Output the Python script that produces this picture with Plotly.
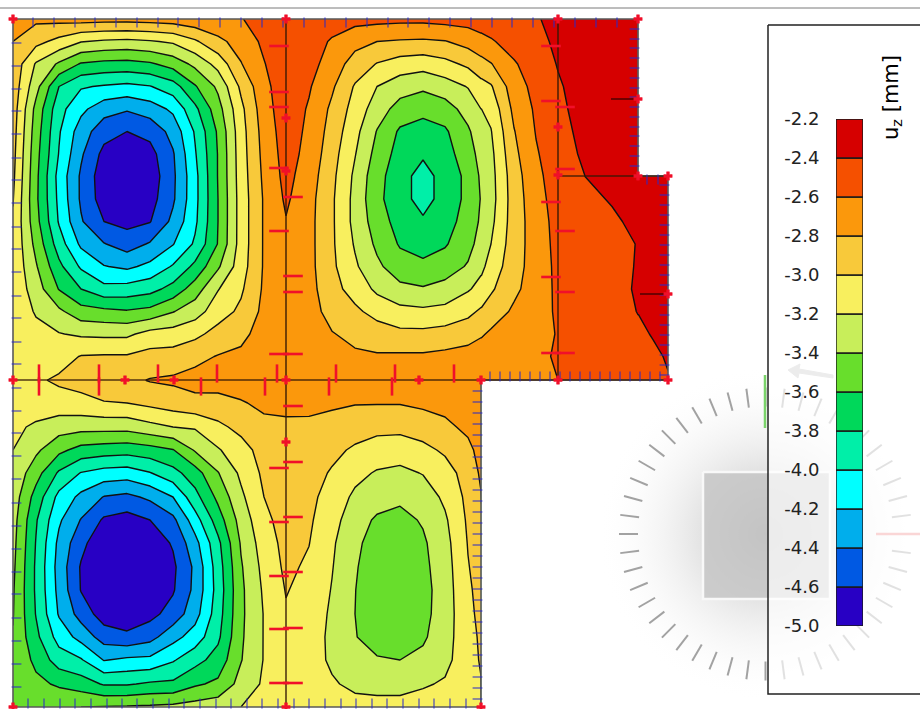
import math
import numpy as np
import plotly.graph_objects as go

# Model grid (one unit = one screen pixel of the drawing area)
x_nodes = [13, 36, 59, 81, 104, 127, 150, 173, 195, 218, 241, 264, 286, 309, 332, 355, 377, 400, 423, 445, 468, 481,
           491, 514, 536, 558, 585, 612, 638, 653, 668]
y_nodes = [19, 41.5, 64, 86.5, 109, 131.5, 154, 176.5, 199, 221.5, 244, 266.5, 289, 311.5, 334, 356.5, 380,
           403, 427, 450, 473, 497, 520, 543, 567, 590, 614, 637, 660, 684, 707]
H = None

# Deformation uz [mm], one list per x node, top to bottom
uz_columns = [
 [-2.62,-2.80,-2.86,-2.88,-2.90,-2.92,-2.94,-2.96,-2.99,-3.02,-3.03,-3.04,-3.05,-3.06,-3.07,-3.08,-3.09,-3.12,-3.16,-3.20,-3.25,-3.29,-3.32,-3.34,-3.36,-3.38,-3.39,-3.41,-3.43,-3.45,-3.47],
 [-2.76,-2.94,-3.22,-3.33,-3.46,-3.50,-3.53,-3.55,-3.56,-3.53,-3.46,-3.38,-3.30,-3.22,-3.14,-3.08,-3.03,-3.10,-3.23,-3.36,-3.52,-3.68,-3.78,-3.81,-3.83,-3.83,-3.81,-3.75,-3.65,-3.55,-3.45],
 [-2.74,-3.06,-3.43,-3.80,-3.93,-3.98,-4.01,-4.07,-4.05,-4.02,-3.90,-3.75,-3.61,-3.36,-3.19,-3.08,-2.97,-3.08,-3.31,-3.55,-3.83,-4.06,-4.17,-4.25,-4.28,-4.26,-4.22,-4.08,-3.90,-3.63,-3.43],
 [-2.72,-3.19,-3.62,-3.98,-4.15,-4.30,-4.37,-4.43,-4.43,-4.38,-4.24,-4.03,-3.80,-3.52,-3.23,-2.99,-2.93,-3.06,-3.33,-3.67,-4.01,-4.25,-4.41,-4.54,-4.62,-4.61,-4.48,-4.27,-3.98,-3.70,-3.40],
 [-2.73,-3.23,-3.66,-4.02,-4.32,-4.52,-4.66,-4.72,-4.70,-4.60,-4.39,-4.19,-3.94,-3.55,-3.24,-2.98,-2.89,-3.01,-3.33,-3.70,-4.08,-4.41,-4.63,-4.76,-4.83,-4.80,-4.70,-4.49,-4.21,-3.82,-3.39],
 [-2.73,-3.25,-3.67,-4.05,-4.38,-4.60,-4.75,-4.85,-4.78,-4.66,-4.49,-4.24,-3.92,-3.58,-3.24,-2.98,-2.85,-3.00,-3.33,-3.72,-4.10,-4.45,-4.68,-4.80,-4.90,-4.86,-4.74,-4.55,-4.16,-3.82,-3.38],
 [-2.72,-3.22,-3.63,-4.01,-4.30,-4.54,-4.67,-4.72,-4.68,-4.61,-4.38,-4.15,-3.87,-3.54,-3.13,-2.93,-2.79,-2.95,-3.26,-3.68,-4.01,-4.36,-4.60,-4.72,-4.78,-4.74,-4.66,-4.47,-4.15,-3.77,-3.37],
 [-2.70,-3.17,-3.52,-3.89,-4.16,-4.33,-4.42,-4.44,-4.43,-4.35,-4.21,-3.98,-3.73,-3.41,-3.11,-2.92,-2.77,-2.90,-3.20,-3.61,-3.87,-4.20,-4.45,-4.58,-4.64,-4.62,-4.52,-4.27,-4.02,-3.76,-3.35],
 [-2.66,-3.03,-3.35,-3.62,-3.85,-3.98,-4.02,-4.06,-4.06,-4.04,-3.97,-3.75,-3.50,-3.29,-3.05,-2.85,-2.74,-2.85,-3.18,-3.38,-3.69,-3.87,-4.09,-4.27,-4.36,-4.35,-4.28,-4.11,-3.87,-3.63,-3.32],
 [-2.64,-2.85,-3.13,-3.36,-3.48,-3.57,-3.59,-3.59,-3.60,-3.60,-3.59,-3.43,-3.21,-3.09,-2.93,-2.79,-2.70,-2.88,-3.04,-3.22,-3.41,-3.55,-3.70,-3.85,-3.90,-3.92,-3.89,-3.84,-3.72,-3.56,-3.28],
 [-2.61,-2.72,-2.81,-2.96,-3.05,-3.08,-3.09,-3.10,-3.11,-3.11,-3.11,-3.09,-3.03,-2.96,-2.85,-2.76,-2.68,-2.82,-2.95,-3.07,-3.16,-3.24,-3.32,-3.38,-3.42,-3.44,-3.44,-3.43,-3.41,-3.33,-3.20],
 [-2.52,-2.56,-2.61,-2.66,-2.69,-2.72,-2.74,-2.76,-2.78,-2.78,-2.78,-2.78,-2.77,-2.75,-2.72,-2.69,-2.66,-2.75,-2.86,-2.93,-2.96,-3.00,-3.05,-3.10,-3.14,-3.17,-3.19,-3.19,-3.19,-3.17,-3.12],
 [-2.46,-2.45,-2.46,-2.47,-2.48,-2.50,-2.52,-2.54,-2.57,-2.61,-2.62,-2.63,-2.63,-2.64,-2.64,-2.65,-2.66,-2.76,-2.83,-2.86,-2.88,-2.90,-2.92,-2.94,-2.96,-2.99,-3.02,-3.04,-3.06,-3.08,-3.08],
 [-2.45,-2.47,-2.52,-2.58,-2.62,-2.64,-2.66,-2.70,-2.73,-2.74,-2.74,-2.74,-2.73,-2.72,-2.70,-2.68,-2.66,-2.75,-2.84,-2.88,-2.92,-2.95,-2.97,-2.995,-3.03,-3.06,-3.09,-3.11,-3.12,-3.12,-3.09],
 [-2.47,-2.63,-2.70,-2.77,-2.84,-2.88,-2.92,-2.95,-2.97,-2.97,-2.97,-2.96,-2.93,-2.87,-2.79,-2.72,-2.68,-2.77,-2.87,-2.95,-3.02,-3.08,-3.13,-3.17,-3.19,-3.21,-3.23,-3.24,-3.23,-3.18,-3.11],
 [-2.53,-2.74,-2.88,-3.02,-3.08,-3.14,-3.19,-3.24,-3.26,-3.26,-3.22,-3.17,-3.08,-2.96,-2.85,-2.77,-2.70,-2.79,-2.91,-3.03,-3.14,-3.24,-3.31,-3.36,-3.38,-3.395,-3.40,-3.39,-3.33,-3.24,-3.14],
 [-2.54,-2.80,-3.01,-3.20,-3.30,-3.41,-3.47,-3.53,-3.55,-3.50,-3.44,-3.36,-3.24,-3.07,-2.90,-2.78,-2.70,-2.79,-2.95,-3.08,-3.22,-3.31,-3.43,-3.48,-3.52,-3.54,-3.53,-3.49,-3.38,-3.26,-3.14],
 [-2.55,-2.82,-3.09,-3.31,-3.48,-3.63,-3.68,-3.72,-3.72,-3.68,-3.62,-3.51,-3.35,-3.14,-2.95,-2.77,-2.70,-2.79,-2.95,-3.10,-3.25,-3.36,-3.46,-3.51,-3.55,-3.56,-3.55,-3.50,-3.40,-3.26,-3.14],
 [-2.55,-2.83,-3.12,-3.36,-3.55,-3.67,-3.77,-3.88,-3.88,-3.77,-3.67,-3.56,-3.38,-3.16,-2.95,-2.77,-2.69,-2.76,-2.91,-3.05,-3.19,-3.31,-3.38,-3.43,-3.45,-3.47,-3.46,-3.43,-3.35,-3.22,-3.12],
 [-2.53,-2.81,-3.06,-3.29,-3.49,-3.63,-3.68,-3.72,-3.72,-3.68,-3.62,-3.50,-3.33,-3.14,-2.92,-2.75,-2.68,-2.73,-2.85,-2.97,-3.08,-3.16,-3.23,-3.27,-3.29,-3.30,-3.30,-3.28,-3.25,-3.18,-3.09],
 [-2.52,-2.73,-2.96,-3.19,-3.32,-3.43,-3.49,-3.55,-3.55,-3.52,-3.47,-3.38,-3.22,-3.05,-2.88,-2.72,-2.66,-2.68,-2.75,-2.86,-2.92,-2.95,-2.97,-2.99,-3.01,-3.03,-3.05,-3.07,-3.09,-3.10,-3.07],
 [-2.50,-2.66,-2.87,-3.07,-3.20,-3.28,-3.33,-3.37,-3.39,-3.37,-3.32,-3.24,-3.14,-2.97,-2.82,-2.70,-2.64,-2.64,-2.66,-2.72,-2.77,-2.81,-2.85,-2.89,-2.92,-2.94,-2.95,-2.97,-2.98,-3.01,-3.03],
 [-2.49,-2.62,-2.81,-3.02,-3.14,-3.21,-3.25,-3.27,-3.28,-3.25,-3.20,-3.13,-3.03,-2.90,-2.77,-2.67,-2.63,H,H,H,H,H,H,H,H,H,H,H,H,H,H],
 [-2.45,-2.52,-2.62,-2.69,-2.75,-2.81,-2.85,-2.89,-2.90,-2.90,-2.89,-2.87,-2.84,-2.77,-2.70,-2.64,-2.62,H,H,H,H,H,H,H,H,H,H,H,H,H,H],
 [-2.42,-2.46,-2.50,-2.54,-2.57,-2.59,-2.62,-2.65,-2.68,-2.70,-2.71,-2.72,-2.71,-2.69,-2.66,-2.64,-2.61,H,H,H,H,H,H,H,H,H,H,H,H,H,H],
 [-2.33,-2.36,-2.39,-2.42,-2.44,-2.46,-2.48,-2.50,-2.51,-2.53,-2.54,-2.55,-2.56,-2.57,-2.59,-2.58,-2.60,H,H,H,H,H,H,H,H,H,H,H,H,H,H],
 [-2.28,-2.29,-2.30,-2.32,-2.33,-2.35,-2.37,-2.40,-2.43,-2.45,-2.46,-2.47,-2.48,-2.49,-2.50,-2.51,-2.52,H,H,H,H,H,H,H,H,H,H,H,H,H,H],
 [-2.25,-2.26,-2.27,-2.28,-2.29,-2.30,-2.32,-2.34,-2.39,-2.42,-2.44,-2.45,-2.46,-2.47,-2.48,-2.49,-2.50,H,H,H,H,H,H,H,H,H,H,H,H,H,H],
 [-2.23,-2.23,-2.24,-2.24,-2.25,-2.26,-2.27,-2.28,-2.33,-2.37,-2.395,-2.39,-2.38,-2.395,-2.43,-2.46,-2.48,H,H,H,H,H,H,H,H,H,H,H,H,H,H],
 [H,H,H,H,H,H,H,-2.26,-2.28,-2.31,-2.33,-2.34,-2.35,-2.37,-2.39,-2.43,-2.46,H,H,H,H,H,H,H,H,H,H,H,H,H,H],
 [H,H,H,H,H,H,H,-2.24,-2.25,-2.27,-2.29,-2.30,-2.31,-2.33,-2.35,-2.385,-2.41,H,H,H,H,H,H,H,H,H,H,H,H,H,H],
]

# Legend
band_lower = [-4.8,-4.6,-4.4,-4.2,-4.0,-3.8,-3.6,-3.4,-3.2,-3.0,-2.8,-2.6,-2.4]
band_colors = ["#2800c4","#0059e3","#00aeec","#00ffff","#00efa8","#00d85a","#68de2c","#c8ee5a",
               "#f8ef5e","#f8c93a","#fb980c","#f55000","#d60000"]
legend_tickvals = [-2.2,-2.4,-2.6,-2.8,-3.0,-3.2,-3.4,-3.6,-3.8,-4.0,-4.2,-4.4,-4.6,-4.8]
legend_ticktext = ["-2.2","-2.4","-2.6","-2.8","-3.0","-3.2","-3.4","-3.6","-3.8","-4.0","-4.2","-4.4","-4.6","-5.0"]

# Structure outline and members
outline_x = [13,638,638,668,668,481,481,13,13]
outline_y = [19,19,176,176,380,380,707,707,19]
member_x = [286,286,None,558,558,None,13,668,None,558,668]
member_y = [19,707,None,19,380,None,380,380,None,176,176]
node_x = [13,286,558,638,286,286,558,558,638,668,638,668,13,125,174,286,419,481,558,668,286,13,286,481]
node_y = [19,19,19,19,118,171,127,175,176,176,99,294,380,380,380,380,380,380,380,380,442,707,707,707]

# Load ticks on members
red_left_286 = [46,92,107,168,231,354,468,522,576,629,683]
red_right_286 = [197,276,292,354,406,462,517,572,628,683]
red_left_558 = [46,101,202,277,353]
red_right_558 = [107,169,231,292,353]
red_above_380 = [39,99,158,217,277,336,395,454]
red_below_380 = [39,99,201,265,329,392]
dark_tick_x = [625,654]
dark_tick_y = [99,294]

# Edge ticks
blue_top = [33,54,75,95,116,137,158,178,199,220,241,262,283,304,325,346,367,388,408,429,450,471,492,512,533,554,575,596,617]
blue_left = [43,66,89,111,134,158,180,203,227,249,272,296,318,342,364,388,411,433,456,479,503,526,549,572,594,618,641,664,687]
blue_bottom = [28,44,60,75,91,107,122,137,153,169,184,200,216,231,247,262,278,294,309,325,341,356,372,387,403,419,434,450,466]
blue_right_481 = [391,402,413,424,435,446,457,468,479,490,501,512,523,534,545,556,567,578,589,600,611,622,633,644,655,666,677,688,699]
blue_floor_380 = [490,500,510,520,530,540,550,560,570,580,590,600,610,620,630,640,650,660]
blue_right_668 = [185,195,205,215,225,235,245,255,265,275,285,295,305,315,325,335,345,355,365,375]
blue_right_638 = [29,39,48,58,68,78,88,97,107,117,127,136,146,156,166]
blue_under_176 = [647,658]

# Build the grid, with sharp steps along the two re-entrant edges
z = np.array([[np.nan if v is None else v for v in c] for c in uz_columns], dtype=float).T
xs = np.array(x_nodes, float)
ys = np.array(y_nodes, float)

i = list(xs).index(481)
col = z[:, i].copy(); col[ys > 380] = np.nan
z = np.insert(z, i + 1, col, axis=1); xs = np.insert(xs, i + 1, 481.5)
i = list(xs).index(638)
col = z[:, i].copy(); col[ys < 176.5] = np.nan
z = np.insert(z, i + 1, col, axis=1); xs = np.insert(xs, i + 1, 638.5)
j = list(ys).index(380)
row = z[j, :].copy(); row[xs > 481] = np.nan
z = np.insert(z, j + 1, row, axis=0); ys = np.insert(ys, j + 1, 380.5)
j = list(ys).index(176.5)
row = z[j, :].copy(); row[xs > 638] = np.nan
z = np.insert(z, j, row, axis=0); ys = np.insert(ys, j, 176.0)

# Stepped colour scale, one colour for each band
n = len(band_colors)
scale = []
for k, c in enumerate(band_colors):
    scale += [[k / n, c], [(k + 1) / n, c]]

fig = go.Figure()

fig.add_trace(go.Contour(
    x=xs, y=ys, z=z.tolist(), zmin=-4.8, zmax=-2.2, colorscale=scale, showscale=False,
    contours=dict(start=-4.6, end=-2.4, size=0.2, coloring="fill", showlines=True),
    line=dict(color="#111111", width=1.4, smoothing=0), connectgaps=False, hoverinfo="skip"))


def line(x, y, color, width, **kw):
    fig.add_trace(go.Scatter(x=x, y=y, mode="lines", line=dict(color=color, width=width),
                             hoverinfo="skip", showlegend=False, **kw))


def ticks(x, y, symbol, size, color, width=1.2):
    fig.add_trace(go.Scatter(x=x, y=y, mode="markers", hoverinfo="skip", showlegend=False,
                             marker=dict(symbol=symbol, size=size, color=color,
                                         line=dict(color=color, width=width))))


# Top rule of the window
line([0, 920], [8, 8], "#7a7a7a", 1)

# Orientation cube in the background
CX, CY = 765.5, 534
fig.add_trace(go.Scatter(x=[CX], y=[CY], mode="markers", hoverinfo="skip", showlegend=False,
                         marker=dict(size=336, color="rgba(255,255,255,0)", line=dict(width=0),
                                     gradient=dict(type="radial", color="#b6b6b6"))))
tx, ty = [], []
for k in range(48):
    a = math.radians(k * 7.5)
    tx += [CX + 127.5 * math.cos(a), CX + 146.5 * math.cos(a), None]
    ty += [CY + 127.5 * math.sin(a), CY + 146.5 * math.sin(a), None]
line(tx, ty, "#a2a2a2", 2)
line([703, 830, 830, 703, 703], [472, 472, 599, 599, 472], "#f8f8f8", 2.5,
     fill="toself", fillcolor="rgba(198,198,198,0.85)")
line([765, 765], [375, 428], "#7ad36a", 2.5)
line([876, 925], [534, 534], "#ee8080", 2.5)
line([788, 800, 799, 833, 833, 799, 798, 788], [370, 364, 369, 375, 378, 373, 378, 370], "#c4c4c4", 1,
     fill="toself", fillcolor="#c4c4c4")

# Outline, members, ticks, nodes
line(outline_x, outline_y, "#5a5a5a", 1.6)
line(member_x, member_y, "rgba(50,25,5,0.85)", 1.6)

BLUE = "rgba(42,42,200,0.85)"
ticks(blue_top, [22.5] * len(blue_top), "line-ns", 7, BLUE)
ticks([16.5] * len(blue_left), blue_left, "line-ew", 7, BLUE)
ticks(blue_bottom, [703.5] * len(blue_bottom), "line-ns", 7, BLUE)
ticks([477.5] * len(blue_right_481), blue_right_481, "line-ew", 7, BLUE)
ticks(blue_floor_380, [376.5] * len(blue_floor_380), "line-ns", 7, BLUE)
ticks([664.5] * len(blue_right_668), blue_right_668, "line-ew", 7, BLUE)
ticks([634.5] * len(blue_right_638), blue_right_638, "line-ew", 7, BLUE)
ticks(blue_under_176, [179.5] * 2, "line-ns", 7, BLUE)

RED = "#f0102a"
ticks([279] * len(red_left_286), red_left_286, "line-ew", 14, RED, 2.6)
ticks([293] * len(red_right_286), red_right_286, "line-ew", 14, RED, 2.6)
ticks([551] * len(red_left_558), red_left_558, "line-ew", 14, RED, 2.6)
ticks([565] * len(red_right_558), red_right_558, "line-ew", 14, RED, 2.6)
ticks(red_above_380, [373.5] * len(red_above_380), "line-ns", 13, RED, 2.6)
ticks(red_below_380, [386.5] * len(red_below_380), "line-ns", 13, RED, 2.6)
ticks(dark_tick_x, dark_tick_y, "line-ew", 20, "#700000", 2)
ticks(node_x, node_y, "cross", 7, RED, 0.5)

# Legend box, veiled over the cube
line([768, 930, 930, 768, 768], [25, 25, 694, 694, 25], "#222222", 1.5,
     fill="toself", fillcolor="rgba(255,255,255,0.68)")

# Legend colour bar on its own axes
fig.add_trace(go.Bar(x=[0.5] * n, y=[0.2] * n, base=band_lower, width=1, xaxis="x2", yaxis="y2",
                     marker=dict(color=band_colors, line=dict(color="#1a1a1a", width=1.4)),
                     hoverinfo="skip", showlegend=False))

fig.update_layout(
    width=920, height=709, margin=dict(l=0, r=0, t=0, b=0, pad=0, autoexpand=False),
    paper_bgcolor="white", plot_bgcolor="rgba(0,0,0,0)", showlegend=False,
    xaxis=dict(range=[0, 920], domain=[0, 1], visible=False, fixedrange=True),
    yaxis=dict(range=[709, 0], domain=[0, 1], visible=False, fixedrange=True),
    xaxis2=dict(range=[0, 1], domain=[836 / 920, 863 / 920], anchor="y2", visible=False, fixedrange=True),
    yaxis2=dict(range=[-4.8, -2.2], domain=[1 - 626 / 709, 1 - 119 / 709], anchor="x2", side="left",
                tickmode="array", tickvals=legend_tickvals, ticktext=legend_ticktext,
                ticks="outside", ticklen=12, tickcolor="rgba(0,0,0,0)", showline=False, showgrid=False,
                zeroline=False, fixedrange=True,
                tickfont=dict(family="DejaVu Sans", size=18, color="#222222")),
    annotations=[dict(x=892, y=98, xref="x", yref="y", text="u<sub>z</sub> [mm]", textangle=-90, showarrow=False,
                      font=dict(family="DejaVu Sans", size=21, color="#000000"))],
)

fig.write_html("out.html", config=dict(displayModeBar=False),
               post_script="document.body.style.margin='0';document.body.style.overflow='hidden';")
